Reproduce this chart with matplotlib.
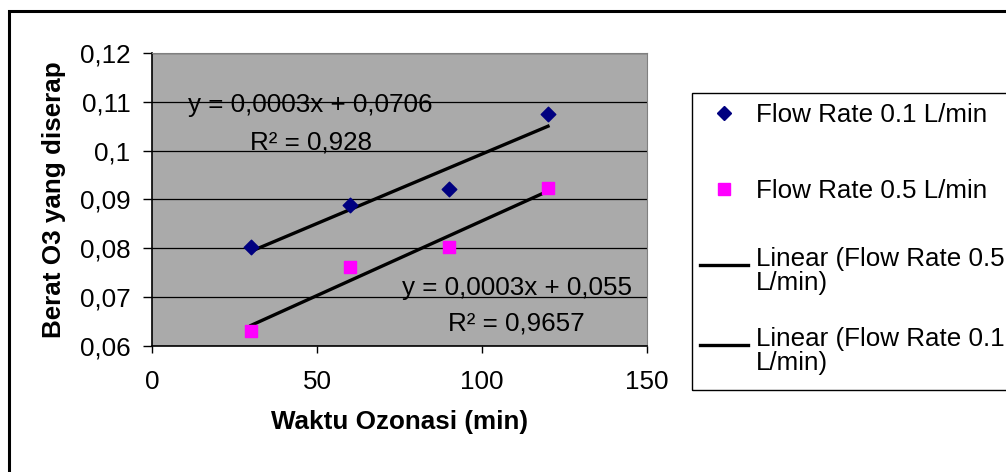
import numpy as np
import matplotlib.pyplot as plt
from matplotlib.lines import Line2D
from matplotlib.patches import Rectangle

plt.rcParams['font.family'] = ['Liberation Sans', 'DejaVu Sans']

## data
waktu = [30, 60, 90, 120]
flow01 = [0.0802, 0.0889, 0.0921, 0.1076]
flow05 = [0.0631, 0.0762, 0.0803, 0.0923]
yTicks = [0.06, 0.07, 0.08, 0.09, 0.10, 0.11, 0.12]
yTickLabels = ['0,06', '0,07', '0,08', '0,09', '0,1', '0,11', '0,12']
xTicks = [0, 50, 100, 150]

FS = 18.7
W, H = 1006, 472
fig = plt.figure(figsize=(W / 100, H / 100), dpi=100)
fig.patch.set_facecolor('white')

# outer chart frame (runs off the right/bottom edge)
fig.patches.append(Rectangle((9 / W, -0.1), 1.2, (H - 11) / H + 0.1,
                             transform=fig.transFigure, fill=False,
                             edgecolor='black', linewidth=2.2, clip_on=False))

ax = fig.add_axes([152 / W, (H - 346) / H, 495 / W, 293 / H])
ax.set_facecolor('#aaaaaa')

ax.scatter(waktu, flow01, marker='D', s=55, color='#000080', zorder=4)
ax.scatter(waktu, flow05, marker='s', s=75, color='#ff00ff', zorder=4)

# linear trend lines
x = np.array(waktu)
p01 = np.polyfit(x, flow01, 1)
p05 = np.polyfit(x, flow05, 1)
ax.plot(x[[0, -1]], np.polyval(p01, x[[0, -1]]), color='black', lw=2.4, zorder=3)
ax.plot(x[[0, -1]], np.polyval(p05, x[[0, -1]]), color='black', lw=2.4, zorder=3)

ax.set_xlim(0, 150)
ax.set_ylim(0.06, 0.12)
ax.set_xticks(xTicks)
ax.set_yticks(yTicks)
ax.set_yticklabels(yTickLabels)
ax.tick_params(axis='both', labelsize=FS, width=1, direction='out')
ax.tick_params(axis='x', length=5, pad=12)
ax.tick_params(axis='y', length=6.5, pad=9)
ax.grid(axis='y', color='black', lw=0.9)
ax.set_axisbelow(True)
for side in ['top', 'right']:
    ax.spines[side].set_color('#808080')
for side in ['left', 'bottom']:
    ax.spines[side].set_color('black')
    ax.spines[side].set_linewidth(1.2)

ax.set_xlabel('Waktu Ozonasi (min)', fontsize=FS, fontweight='bold', labelpad=12)
ax.set_ylabel('Berat O3 yang diserap', fontsize=FS, fontweight='bold', labelpad=10)

# trendline equations
ax.text(47.9, 0.1094, 'y = 0,0003x + 0,0706', fontsize=FS, ha='center', va='center')
ax.text(48.2, 0.1016, 'R² = 0,928', fontsize=FS, ha='center', va='center')
ax.text(110.5, 0.0719, 'y = 0,0003x + 0,055', fontsize=FS, ha='center', va='center')
ax.text(110.5, 0.0647, 'R² = 0,9657', fontsize=FS, ha='center', va='center')

# legend, frame drawn by hand so it runs off the right edge
fig.patches.append(Rectangle((692 / W, (H - 390) / H), 0.4, 297 / H,
                             transform=fig.transFigure, fill=False,
                             edgecolor='black', linewidth=1, clip_on=False))
markerHandles = [
    Line2D([], [], marker='D', ls='none', color='#000080', markersize=7),
    Line2D([], [], marker='s', ls='none', color='#ff00ff', markersize=8),
]
lineHandles = [
    Line2D([], [], color='black', lw=2.4),
    Line2D([], [], color='black', lw=2.4),
]
markerLabels = ['Flow Rate 0.1 L/min', 'Flow Rate 0.5 L/min']
lineLabels = ['Linear (Flow Rate 0.5\nL/min)', 'Linear (Flow Rate 0.1\nL/min)']

legOpts = dict(loc='upper left', frameon=False, fontsize=FS, handlelength=1.85,
               handletextpad=0.3, borderpad=0.0, borderaxespad=0.0)
fig.legend(markerHandles, markerLabels, bbox_to_anchor=(700 / W, (H - 103) / H),
           labelspacing=2.0, **legOpts)
leg2 = fig.legend(lineHandles, lineLabels, bbox_to_anchor=(700 / W, (H - 247) / H),
                  labelspacing=1.2, handleheight=2.4, **legOpts)
for t in leg2.get_texts():
    t.set_linespacing(1.0)

fig.savefig('out.png', dpi=100)
